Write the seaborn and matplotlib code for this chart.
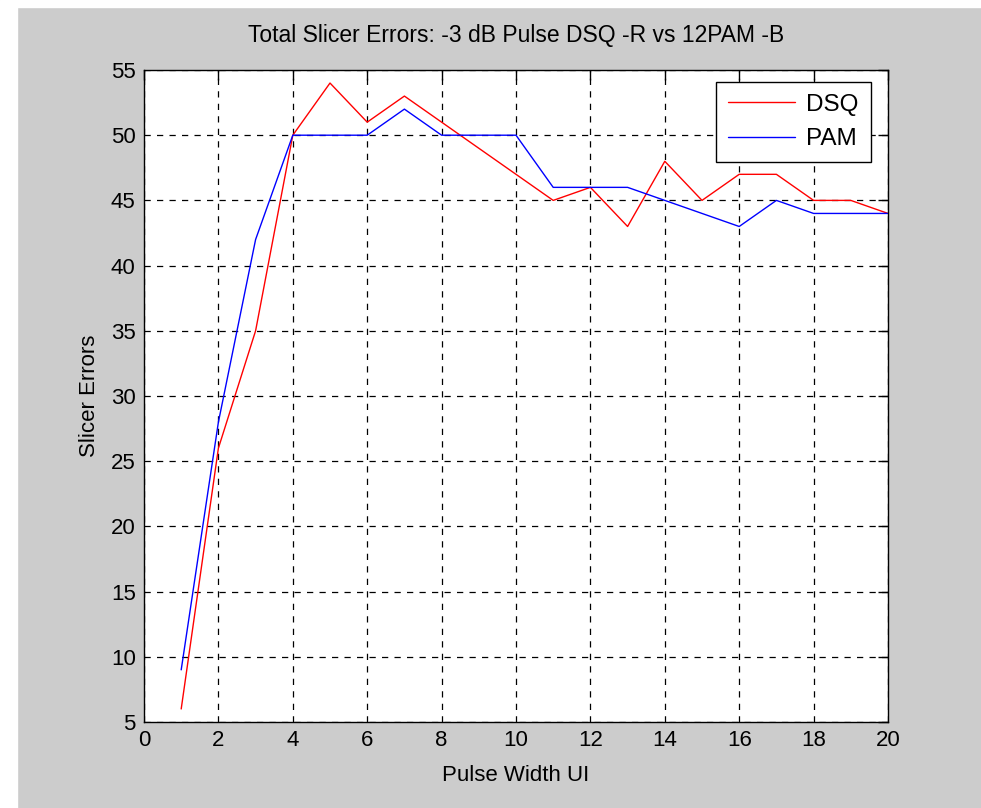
import numpy as np
import pandas as pd
import matplotlib
matplotlib.use("Agg")
import matplotlib.pyplot as plt
import seaborn as sns
from matplotlib.patches import Rectangle
from matplotlib.lines import Line2D

pulse_width = list(range(1, 21))
dsq_errors = [6, 26, 35, 50, 54, 51, 53, 51, 49, 47, 45, 46, 43, 48, 45, 47, 47, 45, 45, 44]
pam_errors = [9, 28, 42, 50, 50, 50, 52, 50, 50, 50, 46, 46, 46, 45, 44, 43, 45, 44, 44, 44]
series_names = ["DSQ", "PAM"]
x_ticks = list(range(0, 21, 2))
y_ticks = list(range(5, 56, 5))

df = pd.DataFrame({
    "x": pulse_width * 2,
    "y": dsq_errors + pam_errors,
    "series": [series_names[0]] * len(pulse_width) + [series_names[1]] * len(pulse_width),
})

sns.set_style("white")
plt.rcParams['font.family'] = ['Liberation Sans', 'DejaVu Sans']
plt.rcParams['text.color'] = 'black'
plt.rcParams['axes.labelcolor'] = 'black'

fig = plt.figure(figsize=(9.81, 8.08), dpi=100)
fig.patch.set_facecolor("#cccccc")
fig.patches.append(Rectangle((0, 0), 17 / 981, 1, transform=fig.transFigure, color="white", zorder=-1))
fig.patches.append(Rectangle((0, 1 - 7 / 808), 1, 7 / 808, transform=fig.transFigure, color="white", zorder=-1))

L, R, T, B = 144, 888, 70, 722
ax = fig.add_axes([L / 981, 1 - B / 808, (R - L) / 981, (B - T) / 808])
ax.set_facecolor("white")

sns.lineplot(data=df, x="x", y="y", hue="series", palette={"DSQ": "red", "PAM": "blue"},
             linewidth=1.0, ax=ax, legend=False, estimator=None, sort=False)

ax.set_xlim(0, 20)
ax.set_ylim(5, 55)
ax.set_xticks(x_ticks)
ax.set_yticks(y_ticks)
ax.tick_params(direction="in", length=7, width=1, top=True, right=True,
               labelsize=16, pad=6, colors="black")
for s in ax.spines.values():
    s.set_visible(True)
    s.set_color("black")
    s.set_linewidth(1.0)
ax.grid(True, color="black", linestyle=(0, (5, 5)), linewidth=0.9)

ax.set_xlabel("Pulse Width UI", fontsize=16, labelpad=10, color="black")
ax.set_ylabel("Slicer Errors", fontsize=16, labelpad=8, color="black")
ax.set_title("Total Slicer Errors: -3 dB Pulse DSQ -R vs 12PAM -B", fontsize=16.5, pad=20, color="black")

handles = [Line2D([], [], color="red", lw=1.0), Line2D([], [], color="blue", lw=1.0)]
leg = ax.legend(handles, series_names, loc="upper right", fontsize=17.5, frameon=True,
                fancybox=False, edgecolor="black", framealpha=1, handlelength=2.75,
                handletextpad=0.45, borderpad=0.5, labelspacing=0.5, borderaxespad=0,
                bbox_to_anchor=(0.9765, 0.982))
leg.get_frame().set_linewidth(1.0)

fig.savefig("out.png", dpi=100, facecolor=fig.get_facecolor())
